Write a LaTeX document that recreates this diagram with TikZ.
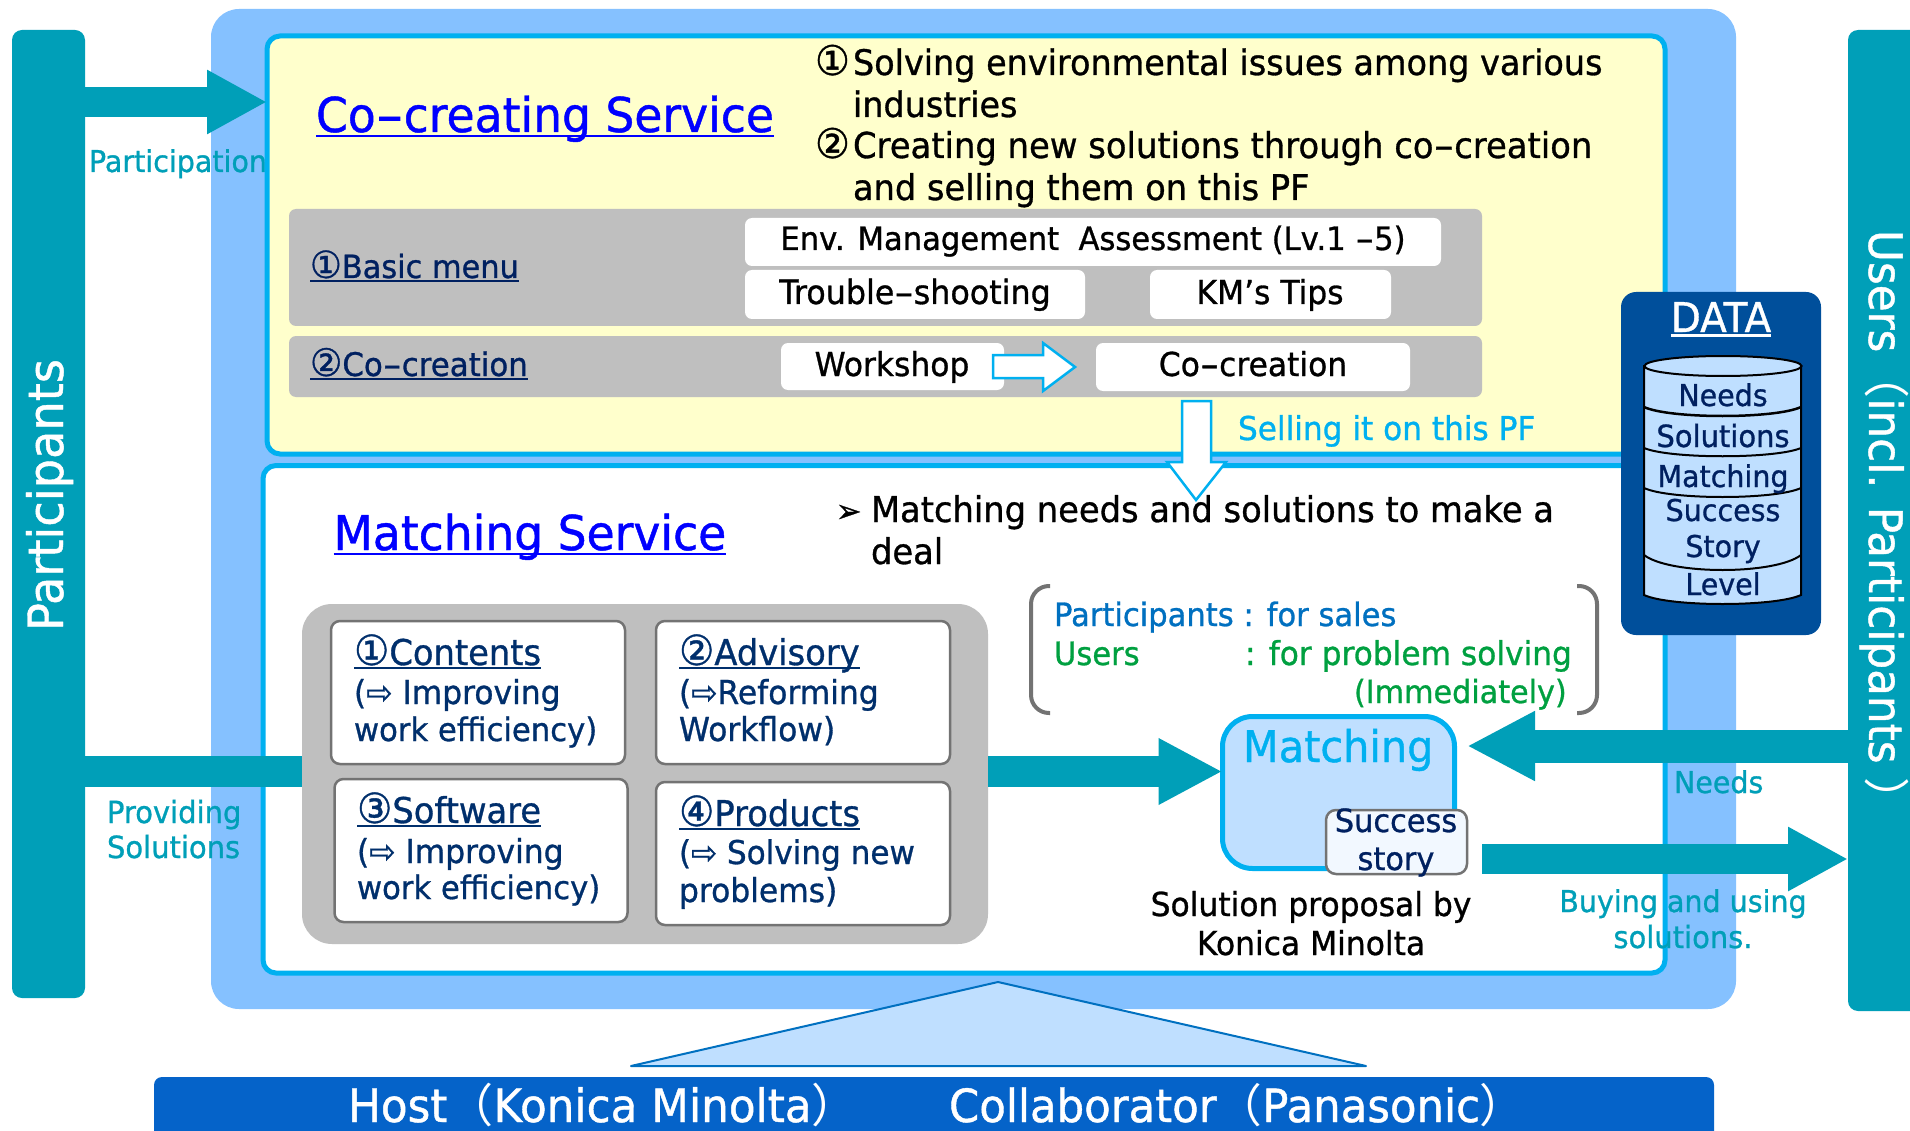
\documentclass[tikz,border=0pt]{standalone}
\usepackage{fontspec}
\setmainfont{DejaVu Sans}[FakeStretch=0.95,FakeBold=0.9]
\newfontfamily\cjk{Noto Sans CJK JP}
\usetikzlibrary{arrows.meta,calc}
\definecolor{bigblue}{HTML}{85C1FF}
\definecolor{cyanb}{HTML}{00B0F0}
\definecolor{paleyel}{HTML}{FFFFCC}
\definecolor{teal2}{HTML}{009FB8}
\definecolor{gray2}{HTML}{BFBFBF}
\definecolor{navy2}{HTML}{002F6C}
\definecolor{navy3}{HTML}{002060}
\definecolor{pale}{HTML}{BFDFFF}
\definecolor{datab}{HTML}{004F9B}
\definecolor{hostb}{HTML}{0563C9}
\definecolor{linkb}{HTML}{0000FF}
\definecolor{blue3}{HTML}{0070C0}
\definecolor{green3}{HTML}{00A040}
\definecolor{succfill}{HTML}{F2F8FF}
\newcommand\fs[1]{\fontsize{#1}{#1}\selectfont}
\newcommand\ul[1]{\setbox0\hbox{#1}\rlap{\rule[-.11em]{\wd0}{.05em}}\box0}
\newcommand\hy{\scalebox{1.7}[1]{-}}
\newcommand\cn[1]{\scalebox{1.17}{#1}}
\newcommand\tx[6][]{\node[txt,#1,font=\fs{#5}] (#2) at (#3,#4) {#6};}
\newcommand\rbox[6]{\node[#1,minimum width=#5-#3,minimum height=#6-#4] (#2) at ({(#3+#5)/2},{(#4+#6)/2}) {};}
\tikzset{
  txt/.style={anchor=base west,inner sep=0,outer sep=0},
  mid/.style={anchor=base},
  basebox/.style={rectangle,inner sep=0,outer sep=0},
  tealbar/.style={basebox,fill=teal2,rounded corners=10},
  whitebar/.style={basebox,fill=white,rounded corners=7},
  graybar/.style={basebox,fill=gray2,rounded corners=7},
  cardbox/.style={basebox,fill=white,draw=gray!90!black,line width=2.5pt,rounded corners=9},
  tealarrow/.style n args={3}{draw=teal2,line width=#1,-{Triangle[length=#2,width=#3,fill=teal2]}},
  tealline/.style={draw=teal2,line width=31pt},
  blockoutline/.style={fill=white,draw=cyanb,line width=2.5pt,line join=miter},
  cylline/.style={fill=pale,draw=black,line width=2pt}
}
\begin{document}
\begin{tikzpicture}[x=1pt,y=-1pt]
\useasboundingbox (0,0) rectangle (1910,1131);
\fill[white] (0,0) rectangle (1910,1131);
% container
\rbox{basebox,fill=bigblue,rounded corners=28}{big}{211}{9}{1736}{1009}
% side bars
\rbox{tealbar}{part}{12}{30}{85}{998}
\rbox{tealbar}{users}{1848}{30}{1930}{1011}
\tx[text=teal2]{lblPart}{89}{172}{30}{Participation}
% service panels
\rbox{basebox,fill=paleyel,draw=cyanb,line width=5pt,rounded corners=13}{cocreate}{267}{36}{1665}{454}
\rbox{basebox,fill=white,draw=cyanb,line width=5pt,rounded corners=13}{matchsvc}{263}{465.5}{1665}{973}
% participation arrow
\coordinate (pa) at (85,102);
\draw[tealarrow={30pt}{60pt}{60pt}] (part.east |- pa) -- (cocreate.west |- pa);
% triangle
\coordinate (triL) at (631,1066);\coordinate (triR) at (1366,1066);\coordinate (triT) at (998,982);
\draw[fill=pale,draw=blue3,line width=2pt,line join=round] (triL) -- (triT) -- (triR) -- cycle;
% host
\rbox{basebox,fill=hostb,rounded corners=8}{host}{154}{1077}{1714}{1160}
\tx[text=white]{hostA}{348}{1122}{46}{Host{\cjk （}Konica Minolta{\cjk ）}}
\tx[text=white]{hostB}{949}{1122}{45.7}{Collaborator{\cjk （}Panasonic{\cjk ）}}
% rotated bar labels
\node[txt,anchor=base,rotate=90,text=white,font=\fs{48.7}] (partT) at (63,495) {Participants};
\node[txt,anchor=base west,rotate=-90,text=white,font=\fs{46}] (usersT) at (1869,230) {Users{\cjk （}incl. Participants {\cjk ）}};
% co-creating
\tx[text=linkb]{ccTitle}{316}{132}{48}{\ul{Co\hy creating Service}}
\tx{n1}{815}{75}{41}{①}
\tx{l1}{853}{75}{35.2}{Solving environmental issues among various}
\tx{l2}{853}{117}{35.2}{industries}
\tx{n2}{815}{158}{41}{②}
\tx{l3}{853}{158}{35.6}{Creating new solutions through co\hy creation}
\tx{l4}{853}{200}{35.4}{and selling them on this PF}
\rbox{graybar}{menuA}{289}{209}{1482}{326}
\rbox{graybar}{menuB}{289}{336}{1482}{397}
\tx[text=navy3]{mA}{310}{278}{32}{\ul{\cn{①}Basic menu}}
\tx[text=navy3]{mB}{310}{376}{32.5}{\ul{\cn{②}Co\hy creation}}
\rbox{whitebar}{envB}{745}{218}{1441}{266}
\rbox{whitebar}{trB}{745}{270}{1085}{319}
\rbox{whitebar}{kmB}{1150}{270}{1391}{319}
\rbox{whitebar}{wsB}{781}{343}{1004}{390}
\rbox{whitebar}{ccB}{1096}{343}{1410}{391}
\tx[mid]{envT}{1093}{250}{32.2}{Env. Management\ \ Assessment (Lv.1 \hy 5)}
\tx[mid]{trT}{915}{304}{33.4}{Trouble\hy shooting}
\tx[mid]{kmT}{1270}{304}{33}{KM’s Tips}
\tx[mid]{wsT}{892}{376}{33}{Workshop}
\tx[mid]{ccT}{1253}{376}{33}{Co\hy creation}
% block arrows
\draw[blockoutline] (993,355) -- (1043,355) -- (1043,343) -- (1075,367) -- (1043,391) -- (1043,378) -- (993,378) -- cycle;
\draw[blockoutline] (1182,401) -- (1211,401) -- (1211,462) -- (1226,462) -- (1196,500) -- (1167,462) -- (1182,462) -- cycle;
\tx[text=cyanb]{sell}{1238}{440}{32.8}{Selling it on this PF}
% matching
\tx[text=linkb]{msTitle}{333.5}{550}{48}{\ul{Matching Service}}
\tx{bull}{836}{522}{32}{➢}
\tx{m1}{871}{522}{35.5}{Matching needs and solutions to make a}
\tx{m2}{871}{564}{35.5}{deal}
\rbox{basebox,fill=gray2,rounded corners=30}{pool}{302}{604}{988}{944}
\rbox{cardbox}{c1}{331}{621}{625}{764}
\rbox{cardbox}{c2}{656}{621}{950}{764}
\rbox{cardbox}{c3}{334.5}{779}{627.5}{922}
\rbox{cardbox}{c4}{656}{782}{950}{925}
\tx[text=navy2]{c1a}{354}{665}{35.5}{\ul{\cn{①}Contents}}
\tx[text=navy2]{c1b}{354}{704}{33}{(⇨ Improving}
\tx[text=navy2]{c1c}{354}{741}{32.3}{work efficiency)}
\tx[text=navy2]{c2a}{679}{665}{35.5}{\ul{\cn{②}Advisory}}
\tx[text=navy2]{c2b}{679}{704}{33}{(⇨Reforming}
\tx[text=navy2]{c2c}{679}{741}{33}{Workflow)}
\tx[text=navy2]{c3a}{357}{823}{35.5}{\ul{\cn{③}Software}}
\tx[text=navy2]{c3b}{357}{863}{33}{(⇨ Improving}
\tx[text=navy2]{c3c}{357}{899}{32.3}{work efficiency)}
\tx[text=navy2]{c4a}{679}{826}{35.5}{\ul{\cn{④}Products}}
\tx[text=navy2]{c4b}{679}{864}{32.7}{(⇨ Solving new}
\tx[text=navy2]{c4c}{679}{902}{33}{problems)}
% bracket
\draw[gray!90!black,line width=4pt,rounded corners=18] (1050,586) -- (1031,586) -- (1031,713) -- (1050,713);
\draw[gray!90!black,line width=4pt,rounded corners=18] (1577,586) -- (1597,586) -- (1597,713) -- (1577,713);
\tx[text=blue3]{pS}{1054}{626}{32.2}{Participants : for sales}
\tx[text=green3]{uS}{1054}{665}{32.2}{Users}
\tx[text=green3]{uS2}{1245}{665}{32.9}{: for problem solving}
\tx[text=green3]{uS3}{1354}{703}{31.8}{(Immediately)}
% matching box
\rbox{basebox,fill=pale,draw=cyanb,line width=5pt,rounded corners=30}{mbox}{1222.5}{716.5}{1454.5}{868.5}
\tx[text=cyanb]{mT}{1243}{762}{43.6}{Matching}
\rbox{basebox,fill=succfill,draw=gray!90!black,line width=2.5pt,rounded corners=10}{sbox}{1326}{810}{1467}{874}
\tx[mid,text=navy3]{s1}{1396}{832}{32}{Success}
\tx[mid,text=navy3]{s2}{1396}{870}{32}{story}
\tx[mid]{sp1}{1311}{916}{33}{Solution proposal by}
\tx[mid]{sp2}{1311}{955}{33}{Konica Minolta}
% flows
\coordinate (fl) at (0,771.5);
\draw[tealline] (part.east |- fl) -- (pool.west |- fl);
\draw[tealarrow={31pt}{64pt}{62pt}] (pool.east |- fl) -- (mbox.west |- fl);
\coordinate (fr) at (0,746);
\draw[tealarrow={33pt}{68pt}{65pt}] (users.west |- fr) -- (1467,746);
\coordinate (fo) at (1482,859);
\draw[tealarrow={30pt}{60pt}{60pt}] (fo) -- (users.west |- fo);
\tx[text=teal2]{lP1}{107}{823}{30.5}{Providing}
\tx[text=teal2]{lP2}{107}{858}{30.5}{Solutions}
\tx[text=teal2]{lN}{1674}{793}{30}{Needs}
\tx[mid,text=teal2]{lB1}{1683}{912}{30}{Buying and using}
\tx[mid,text=teal2]{lB2}{1683}{948}{30.5}{solutions.}
% data
\rbox{basebox,fill=datab,rounded corners=15}{data}{1621}{292}{1821}{635}
\tx[mid,text=white]{dT}{1721}{332}{41}{\ul{DATA}}
\draw[cylline] (1644,366) -- (1644,595) .. controls (1670,607) and (1775,607) .. (1801,595) -- (1801,366) -- cycle;
\draw[cylline] (1723,366) ellipse [x radius=78.5,y radius=10];
\draw[line width=2.5pt] (1644,407) .. controls (1670,419) and (1775,419) .. (1801,407);
\draw[line width=2pt] (1644,448) .. controls (1670,459) and (1775,459) .. (1801,448);
\draw[line width=2pt] (1644,488) .. controls (1670,500) and (1775,500) .. (1801,488);
\draw[line width=2pt] (1644,555) .. controls (1670,575) and (1775,575) .. (1801,555);
\tx[mid,text=navy3]{d1}{1723}{406}{30}{Needs}
\tx[mid,text=navy3]{d2}{1723}{447}{30.5}{Solutions}
\tx[mid,text=navy3]{d3}{1723}{487}{30}{Matching}
\tx[mid,text=navy3]{d4}{1723}{521}{30}{Success}
\tx[mid,text=navy3]{d5}{1723}{557}{30}{Story}
\tx[mid,text=navy3]{d6}{1723}{595}{30}{Level}
\end{tikzpicture}
\end{document}
